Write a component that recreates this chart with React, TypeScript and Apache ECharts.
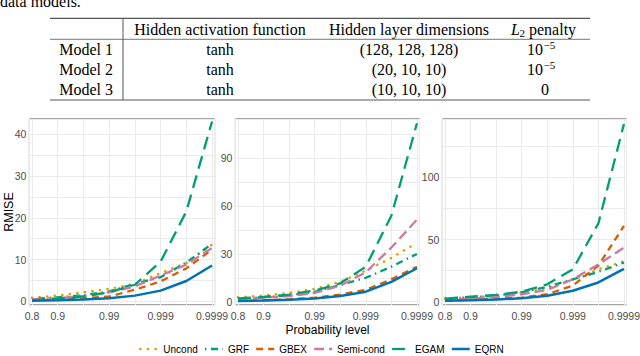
import React, { useEffect, useRef } from 'react';
import * as echarts from 'echarts';

// ---------- data ----------
const probLevels = ['0.8', '0.9', '0.95', '0.99', '0.995', '0.999', '0.9995', '0.9999'];
const tickLabels = ['0.8', '0.9', '0.99', '0.999', '0.9999'];
const methods = ['Uncond', 'GRF', 'GBEX', 'Semi-cond', 'EGAM', 'EQRN'];

// Model 1
const m1Uncond = [0.9, 1.4, 2.2, 3.0, 4.2, 6.8, 9.2, 13.6];
const m1GRF = [0.6, 1.0, 1.5, 2.4, 4.2, 5.8, 9.3, 13.8];
const m1GBEX = [0.3, 0.5, 0.8, 1.2, 2.8, 4.8, 7.9, 12.4];
const m1Semi = [0.5, 0.8, 1.3, 2.2, 3.6, 6.2, 8.8, 12.8];
const m1EGAM = [0.3, 0.6, 1.2, 2.2, 4.0, 9.5, 21.5, 43.0];
const m1EQRN = [0.2, 0.3, 0.5, 0.8, 1.4, 2.6, 4.9, 8.6];

// Model 2
const m2Uncond = [2.8, 3.8, 5.5, 8.0, 12.5, 19.5, 27.5, 37.0];
const m2GRF = [1.8, 2.8, 4.0, 6.2, 10.5, 15.0, 22.0, 30.0];
const m2GBEX = [0.5, 0.9, 1.5, 2.5, 4.5, 7.5, 14.0, 22.0];
const m2Semi = [1.5, 2.5, 3.5, 5.5, 10.0, 18.5, 34.0, 51.5];
const m2EGAM = [2.0, 3.0, 4.5, 7.0, 11.5, 22.0, 54.0, 112.0];
const m2EQRN = [0.4, 0.7, 1.2, 2.0, 3.6, 6.3, 12.5, 21.0];

// Model 3
const m3Uncond = [2.5, 3.5, 5.0, 7.5, 11.0, 18.0, 26.0, 32.5];
const m3GRF = [2.5, 3.5, 5.0, 7.5, 12.0, 18.0, 24.0, 31.5];
const m3GBEX = [1.0, 1.5, 2.2, 3.3, 6.0, 13.0, 29.0, 61.0];
const m3Semi = [1.8, 2.5, 3.8, 6.0, 9.5, 18.0, 30.0, 43.5];
const m3EGAM = [2.5, 4.0, 5.5, 8.0, 14.0, 26.0, 63.0, 143.0];
const m3EQRN = [0.8, 1.2, 1.8, 2.8, 4.8, 8.8, 15.5, 26.5];

const panelData = [
  [m1Uncond, m1GRF, m1GBEX, m1Semi, m1EGAM, m1EQRN],
  [m2Uncond, m2GRF, m2GBEX, m2Semi, m2EGAM, m2EQRN],
  [m3Uncond, m3GRF, m3GBEX, m3Semi, m3EGAM, m3EQRN],
];

// y tick labels per panel
const yTicks1 = [0, 10, 20, 30, 40];
const yTicks2 = [0, 30, 60, 90];
const yTicks3 = [0, 50, 100];
const yTickSets = [yTicks1, yTicks2, yTicks3];

// table
const tableHeaders = ['Hidden activation function', 'Hidden layer dimensions'];
const tableModels = ['Model 1', 'Model 2', 'Model 3'];
const tableActivation = ['tanh', 'tanh', 'tanh'];
const tableDims = ['(128, 128, 128)', '(20, 10, 10)', '(10, 10, 10)'];
const tablePenaltyExp = ['−5', '−5', ''];

// ---------- styles ----------
const methodStyle: Record<string, any> = {
  Uncond: { color: '#E69F00', type: [0.1, 7.5], cap: 'round', width: 2.6 },
  GRF: { color: '#009E73', type: [1.5, 4.5, 7, 4.5], cap: 'butt', width: 2.3 },
  GBEX: { color: '#D55E00', type: [7, 5], cap: 'butt', width: 2.3 },
  'Semi-cond': { color: '#CC79A7', type: [10, 5], cap: 'butt', width: 2.3 },
  EGAM: { color: '#009E73', type: [13, 7], cap: 'butt', width: 2.3 },
  EQRN: { color: '#0072B2', type: 'solid', cap: 'butt', width: 2.5 },
};

const gridPos = [
  { left: 29.4, width: 185.2 },
  { left: 235.4, width: 184.1 },
  { left: 442.4, width: 184.1 },
];
const yRange = [
  { min: -0.84, max: 43.6, minor: 5 },
  { min: -2.07, max: 114.7, minor: 15 },
  { min: -2.64, max: 147, minor: 25 },
];

const SANS = '"Liberation Sans", Arial, sans-serif';
const SERIF = '"Liberation Serif", "Times New Roman", serif';

function txt(text: string, x: number, y: number, align: string, size = 16, extra: any = {}) {
  return {
    type: 'text',
    x,
    y,
    silent: true,
    style: {
      text,
      fill: '#000',
      font: `${extra.italic ? 'italic ' : ''}${size}px ${SERIF}`,
      align,
      textAlign: align,
      verticalAlign: 'middle',
      textVerticalAlign: 'middle',
    },
  };
}

function hline(x1: number, x2: number, y: number, w: number) {
  return {
    type: 'line',
    silent: true,
    shape: { x1, y1: y, x2, y2: y },
    style: { stroke: '#555', lineWidth: w },
  };
}

export default function App() {
  const ref = useRef<HTMLDivElement>(null);
  useEffect(() => {
    if (!ref.current) return;
    const chart = echarts.init(ref.current, undefined, { renderer: 'svg' });

    const grids = gridPos.map((g) => ({
      left: g.left,
      width: g.width,
      top: 119,
      height: 186,
      show: true,
      containLabel: false,
      outerBoundsMode: 'none',
      borderColor: '#4a4a4a',
      borderWidth: 1,
      backgroundColor: 'transparent',
    }));

    const xLabelPositions = tickLabels.map((t) => probLevels.indexOf(t));

    const xAxes = gridPos.map((_, i) => ({
      type: 'value',
      gridIndex: i,
      min: -0.1,
      max: 7.1,
      minInterval: 1,
      maxInterval: 1,
      name: i === 1 ? 'Probability level' : '',
      nameLocation: 'middle',
      nameGap: 19,
      nameMoveOverlap: false,
      nameTextStyle: { fontFamily: SANS, fontSize: 12, color: '#000' },
      axisLine: { show: false, onZero: false },
      axisTick: { show: false },
      splitLine: { show: true, lineStyle: { color: '#ebebeb', width: 1 } },
      axisLabel: {
        margin: 6,
        color: '#4d4d4d',
        fontFamily: SANS,
        fontSize: 10.5,
        lineHeight: 9,
        textMargin: 0,
        showMinLabel: true,
        showMaxLabel: true,
        hideOverlap: false,
        customValues: xLabelPositions,
        formatter: (v: number) => probLevels[Math.round(v)] || '',
      },
    }));

    const yAxes = yRange.map((r, i) => ({
      type: 'value',
      gridIndex: i,
      min: r.min,
      max: r.max,
      minInterval: r.minor,
      maxInterval: r.minor,
      name: i === 0 ? 'RMISE' : '',
      nameLocation: 'middle',
      nameGap: 14,
      nameMoveOverlap: false,
      nameTextStyle: { fontFamily: SANS, fontSize: 12.5, color: '#000' },
      axisLine: { show: false, onZero: false },
      axisTick: { show: false },
      splitLine: { show: true, lineStyle: { color: '#ebebeb', width: 1 } },
      axisLabel: {
        margin: 3,
        color: '#4d4d4d',
        fontFamily: SANS,
        fontSize: 10.5,
        lineHeight: 7,
        textMargin: 0,
        showMinLabel: true,
        showMaxLabel: true,
        hideOverlap: false,
        customValues: yTickSets[i],
        formatter: (v: number) => String(Math.round(v)),
      },
    }));

    const series: any[] = [];
    panelData.forEach((panel, p) => {
      panel.forEach((vals, m) => {
        const name = methods[m];
        const st = methodStyle[name];
        series.push({
          type: 'line',
          name,
          xAxisIndex: p,
          yAxisIndex: p,
          symbol: 'none',
          silent: true,
          data: vals.map((v, i) => [i, v]),
          lineStyle: { color: st.color, width: st.width, type: st.type, cap: st.cap },
          itemStyle: { color: st.color },
        });
      });
    });

    // table graphics
    const g: any[] = [];
    g.push(txt('data models.', 0, 1.5, 'left'));
    g.push(hline(50, 590, 18.3, 1.2));
    g.push(hline(50, 590, 39.3, 0.8));
    g.push(hline(50, 590, 100, 1.2));
    g.push({
      type: 'line',
      silent: true,
      shape: { x1: 123, y1: 18.3, x2: 123, y2: 100 },
      style: { stroke: '#555', lineWidth: 1 },
    });
    g.push(txt(tableHeaders[0], 220, 29, 'center'));
    g.push(txt(tableHeaders[1], 409, 29, 'center'));
    g.push(txt('L', 511, 29, 'left', 16, { italic: true }));
    g.push(txt('2', 519.5, 32.5, 'left', 11));
    g.push(txt('penalty', 529, 29, 'left'));
    const rowY = [49.5, 69.5, 89.5];
    tableModels.forEach((mdl, i) => {
      g.push(txt(mdl, 113, rowY[i], 'right'));
      g.push(txt(tableActivation[i], 220, rowY[i], 'center'));
      g.push(txt(tableDims[i], 409, rowY[i], 'center'));
      if (tablePenaltyExp[i]) {
        g.push(txt('10', 527, rowY[i], 'left'));
        g.push(txt(tablePenaltyExp[i], 543.5, rowY[i] - 5, 'left', 11));
      } else {
        g.push(txt('0', 545, rowY[i], 'center'));
      }
    });

    chart.setOption({
      animation: false,
      backgroundColor: '#ffffff',
      grid: grids,
      xAxis: xAxes,
      yAxis: yAxes,
      legend: {
        left: 139,
        top: 344,
        padding: 0,
        itemWidth: 18,
        itemHeight: 10,
        itemGap: 6,
        textStyle: { fontFamily: SANS, fontSize: 10, color: '#000' },
        data: methods.map((m) => ({
          name: m,
          itemStyle: { color: 'rgba(0,0,0,0)', borderWidth: 0, opacity: 0 },
          lineStyle: {
            color: methodStyle[m].color,
            width: methodStyle[m].width,
            type: methodStyle[m].type,
            cap: methodStyle[m].cap,
          },
        })),
      },
      graphic: g,
      series,
    });
    return () => chart.dispose();
  }, []);
  return (
    <div
      ref={ref}
      style={{ position: 'fixed', left: 0, top: 0, width: 640, height: 356, background: '#fff' }}
    />
  );
}
